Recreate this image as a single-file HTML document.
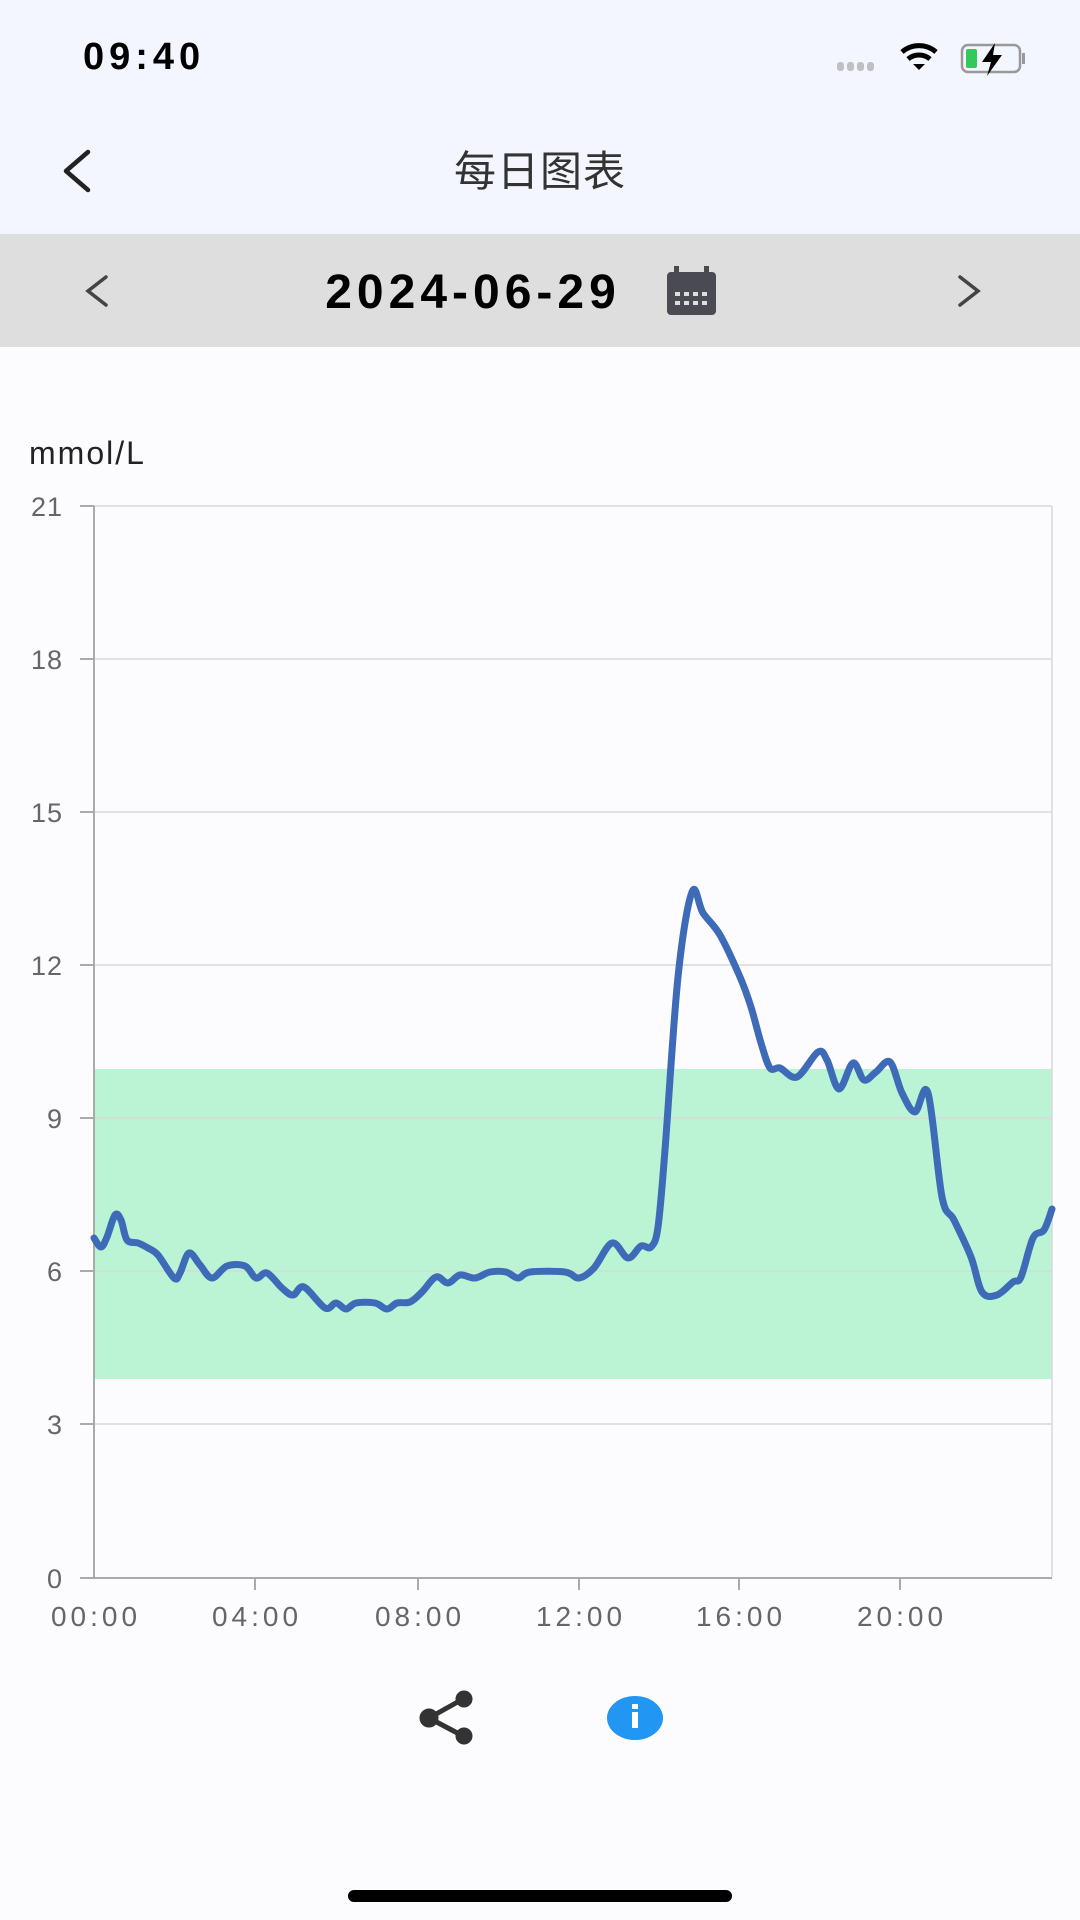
<!DOCTYPE html>
<html><head><meta charset="utf-8"><style>
html,body{margin:0;padding:0;width:1080px;height:1920px;background:#fcfbfe;overflow:hidden;font-family:"Liberation Sans","Noto Sans CJK SC",sans-serif;}
</style></head><body>
<svg width="1080" height="1920" viewBox="0 0 1080 1920" xmlns="http://www.w3.org/2000/svg" style="position:absolute;left:0;top:0">
<rect x="0" y="0" width="1080" height="234" fill="#f3f6fe"/>
<rect x="0" y="234" width="1080" height="113" fill="#dedede"/>
<text x="83" y="69" font-size="38" font-weight="bold" fill="#000" letter-spacing="5" font-family="Liberation Sans, sans-serif">09:40</text>
<g fill="#c0c0c4"><rect x="837" y="62" width="7" height="9" rx="3"/><rect x="847" y="62" width="7" height="9" rx="3"/><rect x="857" y="62" width="7" height="9" rx="3"/><rect x="867" y="62" width="7" height="9" rx="3"/></g>
<path d="M902 52 A26 26 0 0 1 936 52" stroke="#000" stroke-width="5" fill="none"/>
<path d="M908 59 A17 17 0 0 1 930 59" stroke="#000" stroke-width="5" fill="none"/>
<path d="M913 64 L919 70 L925 64 Z" fill="#000"/>
<rect x="962" y="45" width="58" height="27" rx="6" fill="none" stroke="#999" stroke-width="2.5"/>
<rect x="1022" y="53" width="3" height="11" fill="#999"/>
<rect x="966" y="49" width="11" height="19" rx="2" fill="#34c759"/>
<path d="M995 43 L982 62 L991 62 L987 76 L1002 55 L993 55 Z" fill="#000"/>
<path d="M88 152 L66 171 L88 190" stroke="#222" stroke-width="4.5" fill="none" stroke-linecap="round" stroke-linejoin="round"/>
<text x="540" y="186" font-size="42" text-anchor="middle" fill="#333" letter-spacing="1" font-family="Liberation Sans, Noto Sans CJK SC, sans-serif">每日图表</text>
<path d="M106 277 L88 291 L106 305" stroke="#444" stroke-width="3.5" fill="none" stroke-linecap="round"/>
<path d="M960 277 L978 291 L960 305" stroke="#444" stroke-width="3.5" fill="none" stroke-linecap="round"/>
<text x="473" y="308" font-size="48" font-weight="bold" text-anchor="middle" fill="#000" letter-spacing="5" font-family="Liberation Sans, sans-serif">2024-06-29</text>
<rect x="667" y="272" width="49" height="43" rx="4" fill="#4a4a52"/>
<rect x="674" y="266" width="5" height="10" fill="#4a4a52"/><rect x="704" y="266" width="5" height="10" fill="#4a4a52"/>
<g fill="#dedede"><rect x="675" y="292" width="5" height="4"/><rect x="684" y="292" width="5" height="4"/><rect x="693" y="292" width="5" height="4"/><rect x="702" y="292" width="5" height="4"/>
<rect x="675" y="301" width="5" height="4"/><rect x="684" y="301" width="5" height="4"/><rect x="693" y="301" width="5" height="4"/><rect x="702" y="301" width="5" height="4"/></g>
<text x="29" y="464" font-size="32" fill="#222" letter-spacing="2" font-family="Liberation Sans, sans-serif">mmol/L</text>
<rect x="94" y="1069" width="958" height="310" fill="#bbf4d4"/>
<g stroke="#d8d8d8" stroke-width="1.5">
<line x1="94" y1="506" x2="1052" y2="506"/><line x1="94" y1="659" x2="1052" y2="659"/><line x1="94" y1="812" x2="1052" y2="812"/><line x1="94" y1="965" x2="1052" y2="965"/><line x1="94" y1="1118" x2="1052" y2="1118"/><line x1="94" y1="1271" x2="1052" y2="1271"/><line x1="94" y1="1424" x2="1052" y2="1424"/>
<line x1="1052" y1="506" x2="1052" y2="1577"/>
</g>
<g stroke="#aaa" stroke-width="2">
<line x1="94" y1="506" x2="94" y2="1578"/><line x1="80" y1="1578" x2="1052" y2="1578"/>
<line x1="80" y1="506" x2="94" y2="506"/><line x1="80" y1="659" x2="94" y2="659"/><line x1="80" y1="812" x2="94" y2="812"/><line x1="80" y1="965" x2="94" y2="965"/><line x1="80" y1="1118" x2="94" y2="1118"/><line x1="80" y1="1271" x2="94" y2="1271"/><line x1="80" y1="1424" x2="94" y2="1424"/>
<line x1="255" y1="1578" x2="255" y2="1590"/><line x1="418" y1="1578" x2="418" y2="1590"/><line x1="579" y1="1578" x2="579" y2="1590"/><line x1="739" y1="1578" x2="739" y2="1590"/><line x1="900" y1="1578" x2="900" y2="1590"/>
</g>
<g font-size="27" fill="#666" text-anchor="end" letter-spacing="1" font-family="Liberation Sans, sans-serif">
<text x="63" y="516">21</text><text x="63" y="669">18</text><text x="63" y="822">15</text><text x="63" y="975">12</text><text x="63" y="1128">9</text><text x="63" y="1281">6</text><text x="63" y="1434">3</text><text x="63" y="1588">0</text>
</g>
<g font-size="28" fill="#666" text-anchor="middle" font-family="Liberation Sans, sans-serif" letter-spacing="4">
<text x="96" y="1626">00:00</text><text x="257" y="1626">04:00</text><text x="420" y="1626">08:00</text><text x="581" y="1626">12:00</text><text x="741" y="1626">16:00</text><text x="902" y="1626">20:00</text>
</g>
<path id="ln" fill="none" stroke="#3d6bb8" stroke-width="7" stroke-linejoin="round" stroke-linecap="round" d=""/>
<g stroke="#333" stroke-width="5" fill="#333">
<line x1="429" y1="1718" x2="463" y2="1699"/><line x1="429" y1="1718" x2="463" y2="1736"/>
<circle cx="429" cy="1718" r="7"/><circle cx="464" cy="1699" r="6"/><circle cx="464" cy="1736" r="6"/>
</g>
<ellipse cx="635" cy="1718" rx="28" ry="22" fill="#2196f3"/>
<rect x="632" y="1712" width="6" height="16" fill="#fff"/><rect x="632" y="1704" width="6" height="5" fill="#fff"/>
<rect x="348" y="1890" width="384" height="12" rx="6" fill="#000"/>
</svg>
<script>
var s="94,1238 101,1247 107,1237 115,1215 121,1220 127,1240 138,1243 148,1248 158,1255 174,1278 180,1273 189,1253 200,1265 212,1278 227,1266 245,1266 256,1278 267,1273 282,1288 293,1295 304,1287 325,1308 336,1303 346,1309 356,1303 375,1303 387,1309 397,1303 410,1302 422,1292 436,1277 448,1283 460,1275 475,1278 490,1272 506,1272 518,1278 530,1272 565,1272 579,1278 594,1268 612,1243 628,1258 641,1246 651,1247 658,1227 665,1150 678,977 692,892 703,913 720,935 740,977 751,1007 761,1043 770,1068 780,1068 797,1077 818,1052 827,1060 839,1089 853,1063 864,1080 876,1072 890,1062 902,1093 915,1112 928,1093 942,1197 954,1220 971,1257 982,1292 997,1295 1013,1282 1021,1277 1033,1238 1044,1230 1052,1209";
var p=s.split(" ").map(function(a){return a.split(",").map(Number);});
var d="M"+p[0][0]+" "+p[0][1];
for(var i=0;i<p.length-1;i++){var p0=p[i-1]||p[i],p1=p[i],p2=p[i+1],p3=p[i+2]||p2;
var c1x=p1[0]+(p2[0]-p0[0])/6,c1y=p1[1]+(p2[1]-p0[1])/6,c2x=p2[0]-(p3[0]-p1[0])/6,c2y=p2[1]-(p3[1]-p1[1])/6;
d+=" C"+c1x.toFixed(1)+" "+c1y.toFixed(1)+" "+c2x.toFixed(1)+" "+c2y.toFixed(1)+" "+p2[0]+" "+p2[1];}
document.getElementById("ln").setAttribute("d",d);
</script>
</body></html>
